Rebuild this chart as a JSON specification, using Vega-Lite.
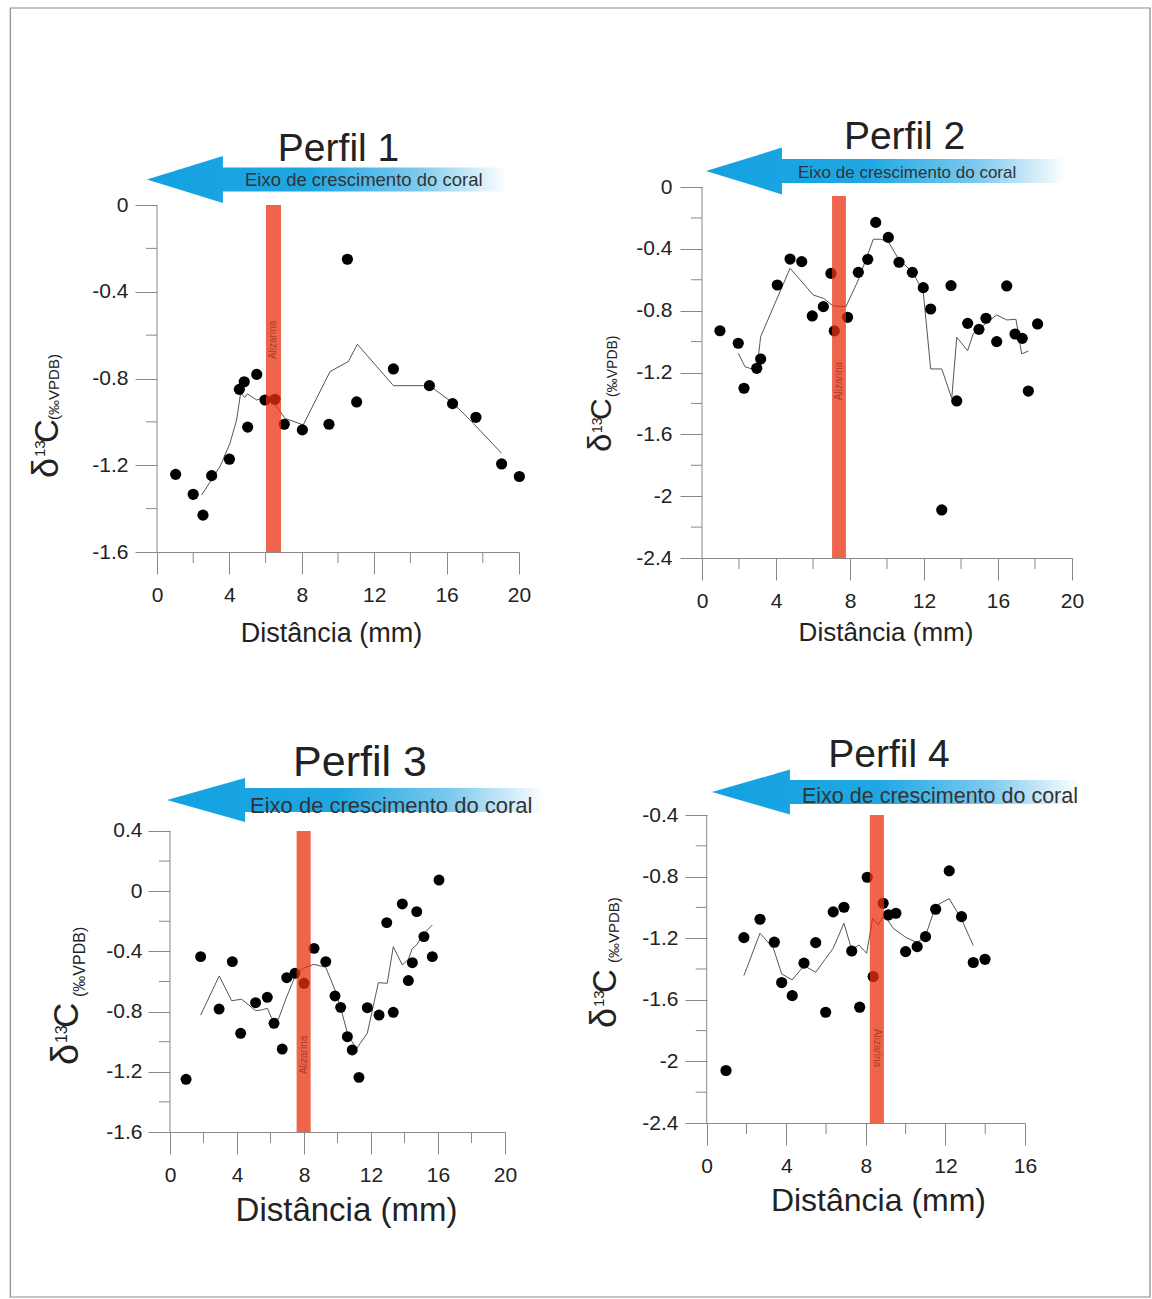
{
  "$schema": "https://vega.github.io/schema/vega-lite/v6.json",
  "background": "white",
  "padding": {"left": 9, "top": 7, "right": 0, "bottom": 0},
  "autosize": {"type": "pad"},
  "bounds": "flush",
  "columns": 2,
  "align": "each",
  "spacing": {"row": 257, "column": 183},
  "config": {
    "font": "Liberation Sans",
    "view": {"stroke": null},
    "axis": {"domainColor": "#888888", "tickColor": "#888888", "labelColor": "#222222", "labelFontSize": 21, "grid": false, "labelFlush": false, "labelOverlap": false, "domainWidth": 1, "tickWidth": 1, "labelFont": "Liberation Sans"}
  },
  "concat": [
    {
      "width": 362, "height": 365,
      "encoding": {
        "x": {"field": "x", "type": "quantitative", "scale": {"domain": [0, 20], "nice": false, "zero": false}, "axis": {"values": [0, 4, 8, 12, 16, 20], "tickSize": 22, "labelPadding": 10, "title": null, "labelExpr": "'' + datum.value"}},
        "y": {"field": "y", "type": "quantitative", "scale": {"domain": [-1.6, 0.083], "nice": false, "zero": false}, "axis": {"values": [0, -0.4, -0.8, -1.2, -1.6], "tickSize": 22, "labelPadding": 7, "domain": false, "title": null, "labelExpr": "'' + datum.value"}}
      },
      "layer": [
        {"data": {"values": [{"x": -8.105, "x2": 54.862, "y": 0.9084, "y2": -5.0351}]}, "mark": {"type": "rect", "fillOpacity": 0, "stroke": "#8a8a8a", "strokeWidth": 1.2}, "encoding": {"x2": {"field": "x2"}, "y2": {"field": "y2"}}},
        {"data": {"values": [{"x": 9.39, "y": 0.1176}]}, "mark": {"type": "point", "shape": "M-1,0L-0.578,-0.13L-0.578,-0.067L1,-0.067L1,0.067L-0.578,0.067L-0.578,0.13Z", "size": 129600, "filled": true, "opacity": 1, "strokeWidth": 0, "fill": {"gradient": "linear", "x1": 0, "y1": 0, "x2": 1, "y2": 0, "stops": [{"offset": 0, "color": "#13A1E1"}, {"offset": 0.45, "color": "#1FA7E3"}, {"offset": 0.75, "color": "#7CC9EE"}, {"offset": 1, "color": "#FFFFFF"}]}}},
        {"data": {"values": [{"x": 4.862, "y": 0.115, "t": "Eixo de crescimento do coral"}]}, "mark": {"type": "text", "align": "left", "baseline": "middle", "fontSize": 18.5, "color": "#333333"}, "encoding": {"text": {"field": "t"}}},
        {"data": {"values": [{"x": 10.03, "y": 0.203, "t": "Perfil 1"}]}, "mark": {"type": "text", "align": "center", "baseline": "alphabetic", "fontSize": 39, "color": "#222222"}, "encoding": {"text": {"field": "t"}}},
        {"data": {"values": [{"x": -5.497, "y": -1.2588, "t": "δ"}]}, "mark": {"type": "text", "align": "left", "baseline": "alphabetic", "angle": 270, "fontSize": 36, "color": "#222222"}, "encoding": {"text": {"field": "t"}}},
        {"data": {"values": [{"x": -5.497, "y": -1.097, "t": "C"}]}, "mark": {"type": "text", "align": "left", "baseline": "alphabetic", "angle": 270, "fontSize": 33, "color": "#222222"}, "encoding": {"text": {"field": "t"}}},
        {"data": {"values": [{"x": -6.188, "y": -1.162, "t": "13"}]}, "mark": {"type": "text", "align": "left", "baseline": "alphabetic", "angle": 270, "fontSize": 15, "color": "#222222"}, "encoding": {"text": {"field": "t"}}},
        {"data": {"values": [{"x": -5.414, "y": -0.991, "t": "(‰VPDB)"}]}, "mark": {"type": "text", "align": "left", "baseline": "alphabetic", "angle": 270, "fontSize": 15, "color": "#222222"}, "encoding": {"text": {"field": "t"}}},
        {"data": {"values": [{"x": 9.64, "y": -2.015, "t": "Distância (mm)"}]}, "mark": {"type": "text", "align": "center", "baseline": "alphabetic", "fontSize": 27, "color": "#222222"}, "encoding": {"text": {"field": "t"}}},
        {"data": {"values": [{"x": 0, "y": -1.6, "y2": 0}]}, "mark": {"type": "rule", "color": "#888888", "strokeWidth": 1}, "encoding": {"y2": {"field": "y2"}}},
        {"data": {"values": [{"x": 0, "y": -0.2}, {"x": 0, "y": -0.6}, {"x": 0, "y": -1.0}, {"x": 0, "y": -1.4}]}, "mark": {"type": "tick", "orient": "horizontal", "size": 11, "thickness": 1, "xOffset": -5.5, "color": "#888888", "opacity": 1}},
        {"data": {"values": [{"x": 2, "y": -1.6}, {"x": 6, "y": -1.6}, {"x": 10, "y": -1.6}, {"x": 14, "y": -1.6}, {"x": 18, "y": -1.6}]}, "mark": {"type": "tick", "orient": "vertical", "size": 11, "thickness": 1, "yOffset": 5.5, "color": "#888888", "opacity": 1}},
        {"data": {"values": [{"x": 2.47, "y": -1.337}, {"x": 3.48, "y": -1.206}, {"x": 4.03, "y": -1.099}, {"x": 4.40, "y": -0.991}, {"x": 4.62, "y": -0.868}, {"x": 4.86, "y": -0.887}, {"x": 4.99, "y": -0.871}, {"x": 5.51, "y": -0.899}, {"x": 6.06, "y": -0.884}, {"x": 6.61, "y": -0.930}, {"x": 7.07, "y": -0.984}, {"x": 8.08, "y": -1.014}, {"x": 9.56, "y": -0.768}, {"x": 10.57, "y": -0.722}, {"x": 11.07, "y": -0.642}, {"x": 13.06, "y": -0.833}, {"x": 15.05, "y": -0.833}, {"x": 16.37, "y": -0.914}, {"x": 17.48, "y": -1.007}, {"x": 19.04, "y": -1.145}]}, "mark": {"type": "line", "color": "#555555", "strokeWidth": 1}},
        {"data": {"values": [{"x": 1.03, "y": -1.242}, {"x": 2.0, "y": -1.334}, {"x": 2.54, "y": -1.43}, {"x": 3.02, "y": -1.248}, {"x": 4.0, "y": -1.172}, {"x": 4.55, "y": -0.850}, {"x": 4.82, "y": -0.815}, {"x": 5.01, "y": -1.024}, {"x": 5.51, "y": -0.781}, {"x": 5.97, "y": -0.899}, {"x": 6.52, "y": -0.896}, {"x": 7.03, "y": -1.011}, {"x": 8.03, "y": -1.037}, {"x": 9.5, "y": -1.011}, {"x": 10.52, "y": -0.250}, {"x": 11.03, "y": -0.908}, {"x": 13.06, "y": -0.756}, {"x": 15.05, "y": -0.833}, {"x": 16.33, "y": -0.916}, {"x": 17.62, "y": -0.979}, {"x": 19.04, "y": -1.194}, {"x": 20.02, "y": -1.252}]}, "mark": {"type": "circle", "size": 125, "color": "#000000", "opacity": 1}},
        {"data": {"values": [{"x": 6.02, "x2": 6.85, "y": 0, "y2": -1.6}]}, "mark": {"type": "rect", "color": "#E8320F", "opacity": 0.75}, "encoding": {"x2": {"field": "x2"}, "y2": {"field": "y2"}}},
        {"data": {"values": [{"x": 6.43, "y": -0.622, "t": "Alizarina"}]}, "mark": {"type": "text", "align": "center", "baseline": "middle", "angle": 270, "fontSize": 10, "color": "#9A3322", "opacity": 0.8}, "encoding": {"text": {"field": "t"}}}
      ]
    },
    {
      "width": 370, "height": 371,
      "encoding": {
        "x": {"field": "x", "type": "quantitative", "scale": {"domain": [0, 20], "nice": false, "zero": false}, "axis": {"values": [0, 4, 8, 12, 16, 20], "tickSize": 22, "labelPadding": 10, "title": null, "labelExpr": "'' + datum.value"}},
        "y": {"field": "y", "type": "quantitative", "scale": {"domain": [-2.4, 0], "nice": false, "zero": false}, "axis": {"values": [0, -0.4, -0.8, -1.2, -1.6, -2, -2.4], "tickSize": 22, "labelPadding": 8, "domain": false, "title": null, "labelExpr": "'' + datum.value"}}
      },
      "layer": [
        {"data": {"values": [{"x": 9.946, "y": 0.1035}]}, "mark": {"type": "point", "shape": "M-1,0L-0.578,-0.13L-0.578,-0.067L1,-0.067L1,0.067L-0.578,0.067L-0.578,0.13Z", "size": 129600, "filled": true, "opacity": 1, "strokeWidth": 0, "fill": {"gradient": "linear", "x1": 0, "y1": 0, "x2": 1, "y2": 0, "stops": [{"offset": 0, "color": "#13A1E1"}, {"offset": 0.45, "color": "#1FA7E3"}, {"offset": 0.75, "color": "#7CC9EE"}, {"offset": 1, "color": "#FFFFFF"}]}}},
        {"data": {"values": [{"x": 5.189, "y": 0.0906, "t": "Eixo de crescimento do coral"}]}, "mark": {"type": "text", "align": "left", "baseline": "middle", "fontSize": 17, "color": "#333333"}, "encoding": {"text": {"field": "t"}}},
        {"data": {"values": [{"x": 10.95, "y": 0.246, "t": "Perfil 2"}]}, "mark": {"type": "text", "align": "center", "baseline": "alphabetic", "fontSize": 39, "color": "#222222"}, "encoding": {"text": {"field": "t"}}},
        {"data": {"values": [{"x": -4.892, "y": -1.714, "t": "δ"}]}, "mark": {"type": "text", "align": "left", "baseline": "alphabetic", "angle": 270, "fontSize": 33, "color": "#222222"}, "encoding": {"text": {"field": "t"}}},
        {"data": {"values": [{"x": -4.892, "y": -1.507, "t": "C"}]}, "mark": {"type": "text", "align": "left", "baseline": "alphabetic", "angle": 270, "fontSize": 30, "color": "#222222"}, "encoding": {"text": {"field": "t"}}},
        {"data": {"values": [{"x": -5.432, "y": -1.591, "t": "13"}]}, "mark": {"type": "text", "align": "left", "baseline": "alphabetic", "angle": 270, "fontSize": 14, "color": "#222222"}, "encoding": {"text": {"field": "t"}}},
        {"data": {"values": [{"x": -4.595, "y": -1.358, "t": "(‰VPDB)"}]}, "mark": {"type": "text", "align": "left", "baseline": "alphabetic", "angle": 270, "fontSize": 14, "color": "#222222"}, "encoding": {"text": {"field": "t"}}},
        {"data": {"values": [{"x": 9.946, "y": -2.937, "t": "Distância (mm)"}]}, "mark": {"type": "text", "align": "center", "baseline": "alphabetic", "fontSize": 26, "color": "#222222"}, "encoding": {"text": {"field": "t"}}},
        {"data": {"values": [{"x": 0, "y": -2.4, "y2": 0}]}, "mark": {"type": "rule", "color": "#888888", "strokeWidth": 1}, "encoding": {"y2": {"field": "y2"}}},
        {"data": {"values": [{"x": 0, "y": -0.2}, {"x": 0, "y": -0.6}, {"x": 0, "y": -1.0}, {"x": 0, "y": -1.4}, {"x": 0, "y": -1.8}, {"x": 0, "y": -2.2}]}, "mark": {"type": "tick", "orient": "horizontal", "size": 11, "thickness": 1, "xOffset": -5.5, "color": "#888888", "opacity": 1}},
        {"data": {"values": [{"x": 2, "y": -2.4}, {"x": 6, "y": -2.4}, {"x": 10, "y": -2.4}, {"x": 14, "y": -2.4}, {"x": 18, "y": -2.4}]}, "mark": {"type": "tick", "orient": "vertical", "size": 11, "thickness": 1, "yOffset": 5.5, "color": "#888888", "opacity": 1}},
        {"data": {"values": [{"x": 1.96, "y": -1.076}, {"x": 2.32, "y": -1.162}, {"x": 2.96, "y": -1.188}, {"x": 3.17, "y": -0.968}, {"x": 4.76, "y": -0.526}, {"x": 6.02, "y": -0.699}, {"x": 6.56, "y": -0.720}, {"x": 7.1, "y": -0.770}, {"x": 7.78, "y": -0.774}, {"x": 8.45, "y": -0.602}, {"x": 9.26, "y": -0.338}, {"x": 9.66, "y": -0.338}, {"x": 10.07, "y": -0.354}, {"x": 10.65, "y": -0.472}, {"x": 11.37, "y": -0.548}, {"x": 11.96, "y": -0.677}, {"x": 12.36, "y": -1.177}, {"x": 12.96, "y": -1.177}, {"x": 13.50, "y": -1.367}, {"x": 13.77, "y": -0.972}, {"x": 14.36, "y": -1.059}, {"x": 14.67, "y": -0.946}, {"x": 15.35, "y": -0.882}, {"x": 15.93, "y": -0.828}, {"x": 16.47, "y": -0.860}, {"x": 16.97, "y": -0.856}, {"x": 17.28, "y": -1.080}, {"x": 17.64, "y": -1.061}]}, "mark": {"type": "line", "color": "#555555", "strokeWidth": 1}},
        {"data": {"values": [{"x": 0.97, "y": -0.930}, {"x": 1.96, "y": -1.011}, {"x": 2.27, "y": -1.302}, {"x": 2.96, "y": -1.173}, {"x": 3.17, "y": -1.113}, {"x": 4.07, "y": -0.634}, {"x": 4.76, "y": -0.466}, {"x": 5.39, "y": -0.483}, {"x": 5.96, "y": -0.834}, {"x": 6.56, "y": -0.774}, {"x": 6.97, "y": -0.559}, {"x": 7.15, "y": -0.931}, {"x": 7.87, "y": -0.843}, {"x": 8.45, "y": -0.552}, {"x": 8.96, "y": -0.468}, {"x": 9.39, "y": -0.229}, {"x": 10.07, "y": -0.326}, {"x": 10.65, "y": -0.487}, {"x": 11.37, "y": -0.552}, {"x": 11.96, "y": -0.651}, {"x": 12.36, "y": -0.789}, {"x": 12.96, "y": -2.089}, {"x": 13.46, "y": -0.638}, {"x": 13.77, "y": -1.384}, {"x": 14.36, "y": -0.882}, {"x": 14.97, "y": -0.921}, {"x": 15.35, "y": -0.849}, {"x": 15.93, "y": -1.000}, {"x": 16.47, "y": -0.640}, {"x": 16.92, "y": -0.951}, {"x": 17.31, "y": -0.979}, {"x": 17.64, "y": -1.320}, {"x": 18.14, "y": -0.886}]}, "mark": {"type": "circle", "size": 125, "color": "#000000", "opacity": 1}},
        {"data": {"values": [{"x": 7.03, "x2": 7.78, "y": -0.058, "y2": -2.4}]}, "mark": {"type": "rect", "color": "#E8320F", "opacity": 0.75}, "encoding": {"x2": {"field": "x2"}, "y2": {"field": "y2"}}},
        {"data": {"values": [{"x": 7.4, "y": -1.255, "t": "Alizarina"}]}, "mark": {"type": "text", "align": "center", "baseline": "middle", "angle": 270, "fontSize": 10, "color": "#9A3322", "opacity": 0.8}, "encoding": {"text": {"field": "t"}}}
      ]
    },
    {
      "width": 348, "height": 317,
      "encoding": {
        "x": {"field": "x", "type": "quantitative", "scale": {"domain": [-0.776, 20], "nice": false, "zero": false}, "axis": {"values": [0, 4, 8, 12, 16, 20], "tickSize": 22, "labelPadding": 10, "title": null, "labelExpr": "'' + datum.value"}},
        "y": {"field": "y", "type": "quantitative", "scale": {"domain": [-1.6, 0.506], "nice": false, "zero": false}, "axis": {"values": [0.4, 0, -0.4, -0.8, -1.2, -1.6], "tickSize": 22, "labelPadding": 6, "domain": false, "offset": -13, "title": null, "labelExpr": "'' + datum.value"}}
      },
      "layer": [
        {"data": {"values": [{"x": 11.105, "y": 0.6057}]}, "mark": {"type": "point", "shape": "M-1,0L-0.587,-0.116L-0.587,-0.063L1,-0.063L1,0.063L-0.587,0.063L-0.587,0.116Z", "size": 142884, "filled": true, "opacity": 1, "strokeWidth": 0, "fill": {"gradient": "linear", "x1": 0, "y1": 0, "x2": 1, "y2": 0, "stops": [{"offset": 0, "color": "#13A1E1"}, {"offset": 0.45, "color": "#1FA7E3"}, {"offset": 0.75, "color": "#7CC9EE"}, {"offset": 1, "color": "#FFFFFF"}]}}},
        {"data": {"values": [{"x": 4.776, "y": 0.566, "t": "Eixo de crescimento do coral"}]}, "mark": {"type": "text", "align": "left", "baseline": "middle", "fontSize": 22, "color": "#333333"}, "encoding": {"text": {"field": "t"}}},
        {"data": {"values": [{"x": 11.343, "y": 0.765, "t": "Perfil 3"}]}, "mark": {"type": "text", "align": "center", "baseline": "alphabetic", "fontSize": 43, "color": "#222222"}, "encoding": {"text": {"field": "t"}}},
        {"data": {"values": [{"x": -5.474, "y": -1.155, "t": "δ"}]}, "mark": {"type": "text", "align": "left", "baseline": "alphabetic", "angle": 270, "fontSize": 38, "color": "#222222"}, "encoding": {"text": {"field": "t"}}},
        {"data": {"values": [{"x": -5.474, "y": -0.909, "t": "C"}]}, "mark": {"type": "text", "align": "left", "baseline": "alphabetic", "angle": 270, "fontSize": 35, "color": "#222222"}, "encoding": {"text": {"field": "t"}}},
        {"data": {"values": [{"x": -6.167, "y": -1.009, "t": "13"}]}, "mark": {"type": "text", "align": "left", "baseline": "alphabetic", "angle": 270, "fontSize": 16, "color": "#222222"}, "encoding": {"text": {"field": "t"}}},
        {"data": {"values": [{"x": -5.104, "y": -0.703, "t": "(‰VPDB)"}]}, "mark": {"type": "text", "align": "left", "baseline": "alphabetic", "angle": 270, "fontSize": 16, "color": "#222222"}, "encoding": {"text": {"field": "t"}}},
        {"data": {"values": [{"x": 10.537, "y": -2.192, "t": "Distância (mm)"}]}, "mark": {"type": "text", "align": "center", "baseline": "alphabetic", "fontSize": 33, "color": "#222222"}, "encoding": {"text": {"field": "t"}}},
        {"data": {"values": [{"x": 0, "y": -1.6, "y2": 0.4}]}, "mark": {"type": "rule", "color": "#888888", "strokeWidth": 1}, "encoding": {"y2": {"field": "y2"}}},
        {"data": {"values": [{"x": 0, "y": 0.2}, {"x": 0, "y": -0.2}, {"x": 0, "y": -0.6}, {"x": 0, "y": -1.0}, {"x": 0, "y": -1.4}]}, "mark": {"type": "tick", "orient": "horizontal", "size": 11, "thickness": 1, "xOffset": -5.5, "color": "#888888", "opacity": 1}},
        {"data": {"values": [{"x": 2, "y": -1.6}, {"x": 6, "y": -1.6}, {"x": 10, "y": -1.6}, {"x": 14, "y": -1.6}, {"x": 18, "y": -1.6}]}, "mark": {"type": "tick", "orient": "vertical", "size": 11, "thickness": 1, "yOffset": 5.5, "color": "#888888", "opacity": 1}},
        {"data": {"values": [{"x": 1.83, "y": -0.823}, {"x": 2.94, "y": -0.563}, {"x": 3.68, "y": -0.728}, {"x": 4.28, "y": -0.718}, {"x": 5.11, "y": -0.794}, {"x": 5.47, "y": -0.789}, {"x": 5.81, "y": -0.778}, {"x": 6.07, "y": -0.845}, {"x": 6.47, "y": -0.851}, {"x": 6.97, "y": -0.701}, {"x": 7.46, "y": -0.568}, {"x": 7.96, "y": -0.512}, {"x": 8.60, "y": -0.486}, {"x": 9.30, "y": -0.506}, {"x": 9.85, "y": -0.656}, {"x": 10.25, "y": -0.801}, {"x": 10.65, "y": -0.967}, {"x": 11.15, "y": -1.044}, {"x": 11.78, "y": -0.944}, {"x": 12.44, "y": -0.608}, {"x": 12.97, "y": -0.612}, {"x": 13.33, "y": -0.369}, {"x": 13.87, "y": -0.490}, {"x": 14.23, "y": -0.453}, {"x": 14.47, "y": -0.380}, {"x": 14.73, "y": -0.357}, {"x": 15.12, "y": -0.286}, {"x": 15.66, "y": -0.225}]}, "mark": {"type": "line", "color": "#555555", "strokeWidth": 1}},
        {"data": {"values": [{"x": 0.96, "y": -1.25}, {"x": 1.83, "y": -0.435}, {"x": 2.93, "y": -0.783}, {"x": 3.72, "y": -0.468}, {"x": 4.22, "y": -0.944}, {"x": 5.11, "y": -0.741}, {"x": 5.81, "y": -0.705}, {"x": 6.21, "y": -0.878}, {"x": 6.70, "y": -1.049}, {"x": 6.97, "y": -0.575}, {"x": 7.46, "y": -0.546}, {"x": 8.00, "y": -0.612}, {"x": 8.60, "y": -0.380}, {"x": 9.30, "y": -0.468}, {"x": 9.85, "y": -0.696}, {"x": 10.19, "y": -0.772}, {"x": 10.59, "y": -0.967}, {"x": 10.88, "y": -1.055}, {"x": 11.28, "y": -1.237}, {"x": 11.78, "y": -0.774}, {"x": 12.48, "y": -0.823}, {"x": 12.94, "y": -0.209}, {"x": 13.33, "y": -0.805}, {"x": 13.87, "y": -0.085}, {"x": 14.23, "y": -0.594}, {"x": 14.47, "y": -0.475}, {"x": 14.73, "y": -0.136}, {"x": 15.16, "y": -0.302}, {"x": 15.66, "y": -0.435}, {"x": 16.06, "y": 0.074}]}, "mark": {"type": "circle", "size": 120, "color": "#000000", "opacity": 1}},
        {"data": {"values": [{"x": 7.56, "x2": 8.40, "y": 0.4, "y2": -1.6}]}, "mark": {"type": "rect", "color": "#E8320F", "opacity": 0.75}, "encoding": {"x2": {"field": "x2"}, "y2": {"field": "y2"}}},
        {"data": {"values": [{"x": 7.98, "y": -1.088, "t": "Alizarina"}]}, "mark": {"type": "text", "align": "center", "baseline": "middle", "angle": 270, "fontSize": 10, "color": "#9A3322", "opacity": 0.8}, "encoding": {"text": {"field": "t"}}}
      ]
    },
    {
      "width": 323, "height": 308,
      "encoding": {
        "x": {"field": "x", "type": "quantitative", "scale": {"domain": [-0.236, 16], "nice": false, "zero": false}, "axis": {"values": [0, 4, 8, 12, 16], "tickSize": 22, "labelPadding": 10, "title": null, "labelExpr": "'' + datum.value"}},
        "y": {"field": "y", "type": "quantitative", "scale": {"domain": [-2.4, -0.4], "nice": false, "zero": false}, "axis": {"values": [-0.4, -0.8, -1.2, -1.6, -2, -2.4], "tickSize": 22, "labelPadding": 7, "domain": false, "offset": -5, "title": null, "labelExpr": "'' + datum.value"}}
      },
      "layer": [
        {"data": {"values": [{"x": 9.513, "y": -0.251}]}, "mark": {"type": "point", "shape": "M-1,0L-0.576,-0.122L-0.576,-0.065L1,-0.065L1,0.065L-0.576,0.065L-0.576,0.122Z", "size": 135424, "filled": true, "opacity": 1, "strokeWidth": 0, "fill": {"gradient": "linear", "x1": 0, "y1": 0, "x2": 1, "y2": 0, "stops": [{"offset": 0, "color": "#13A1E1"}, {"offset": 0.45, "color": "#1FA7E3"}, {"offset": 0.75, "color": "#7CC9EE"}, {"offset": 1, "color": "#FFFFFF"}]}}},
        {"data": {"values": [{"x": 4.789, "y": -0.283, "t": "Eixo de crescimento do coral"}]}, "mark": {"type": "text", "align": "left", "baseline": "middle", "fontSize": 21.5, "color": "#333333"}, "encoding": {"text": {"field": "t"}}},
        {"data": {"values": [{"x": 9.161, "y": -0.088, "t": "Perfil 4"}]}, "mark": {"type": "text", "align": "center", "baseline": "alphabetic", "fontSize": 39, "color": "#222222"}, "encoding": {"text": {"field": "t"}}},
        {"data": {"values": [{"x": -4.557, "y": -1.783, "t": "δ"}]}, "mark": {"type": "text", "align": "left", "baseline": "alphabetic", "angle": 270, "fontSize": 36, "color": "#222222"}, "encoding": {"text": {"field": "t"}}},
        {"data": {"values": [{"x": -4.557, "y": -1.556, "t": "C"}]}, "mark": {"type": "text", "align": "left", "baseline": "alphabetic", "angle": 270, "fontSize": 33, "color": "#222222"}, "encoding": {"text": {"field": "t"}}},
        {"data": {"values": [{"x": -5.186, "y": -1.647, "t": "13"}]}, "mark": {"type": "text", "align": "left", "baseline": "alphabetic", "angle": 270, "fontSize": 15, "color": "#222222"}, "encoding": {"text": {"field": "t"}}},
        {"data": {"values": [{"x": -4.432, "y": -1.361, "t": "(‰VPDB)"}]}, "mark": {"type": "text", "align": "left", "baseline": "alphabetic", "angle": 270, "fontSize": 15, "color": "#222222"}, "encoding": {"text": {"field": "t"}}},
        {"data": {"values": [{"x": 8.634, "y": -2.971, "t": "Distância (mm)"}]}, "mark": {"type": "text", "align": "center", "baseline": "alphabetic", "fontSize": 32, "color": "#222222"}, "encoding": {"text": {"field": "t"}}},
        {"data": {"values": [{"x": 0, "y": -2.4, "y2": -0.4}]}, "mark": {"type": "rule", "color": "#888888", "strokeWidth": 1}, "encoding": {"y2": {"field": "y2"}}},
        {"data": {"values": [{"x": 0, "y": -0.6}, {"x": 0, "y": -1.0}, {"x": 0, "y": -1.4}, {"x": 0, "y": -1.8}, {"x": 0, "y": -2.2}]}, "mark": {"type": "tick", "orient": "horizontal", "size": 11, "thickness": 1, "xOffset": -5.5, "color": "#888888", "opacity": 1}},
        {"data": {"values": [{"x": 2, "y": -2.4}, {"x": 6, "y": -2.4}, {"x": 10, "y": -2.4}, {"x": 14, "y": -2.4}]}, "mark": {"type": "tick", "orient": "vertical", "size": 11, "thickness": 1, "yOffset": 5.5, "color": "#888888", "opacity": 1}},
        {"data": {"values": [{"x": 1.87, "y": -1.443}, {"x": 2.68, "y": -1.168}, {"x": 3.35, "y": -1.265}, {"x": 3.77, "y": -1.432}, {"x": 4.30, "y": -1.471}, {"x": 4.89, "y": -1.378}, {"x": 5.48, "y": -1.421}, {"x": 6.36, "y": -1.265}, {"x": 6.90, "y": -1.103}, {"x": 7.29, "y": -1.276}, {"x": 7.65, "y": -1.244}, {"x": 8.04, "y": -1.298}, {"x": 8.34, "y": -1.071}, {"x": 8.62, "y": -1.114}, {"x": 8.92, "y": -1.049}, {"x": 9.38, "y": -1.136}, {"x": 10.0, "y": -1.194}, {"x": 10.58, "y": -1.229}, {"x": 11.0, "y": -1.185}, {"x": 11.51, "y": -0.990}, {"x": 12.19, "y": -0.943}, {"x": 12.81, "y": -1.077}, {"x": 13.40, "y": -1.248}]}, "mark": {"type": "line", "color": "#555555", "strokeWidth": 1}},
        {"data": {"values": [{"x": 0.97, "y": -2.059}, {"x": 1.87, "y": -1.196}, {"x": 2.68, "y": -1.077}, {"x": 3.40, "y": -1.226}, {"x": 3.77, "y": -1.488}, {"x": 4.30, "y": -1.573}, {"x": 4.89, "y": -1.362}, {"x": 5.48, "y": -1.229}, {"x": 5.98, "y": -1.681}, {"x": 6.36, "y": -1.029}, {"x": 6.90, "y": -0.999}, {"x": 7.29, "y": -1.283}, {"x": 7.69, "y": -1.648}, {"x": 8.07, "y": -0.804}, {"x": 8.37, "y": -1.449}, {"x": 8.87, "y": -0.973}, {"x": 9.13, "y": -1.049}, {"x": 9.51, "y": -1.038}, {"x": 10.0, "y": -1.287}, {"x": 10.58, "y": -1.255}, {"x": 11.0, "y": -1.190}, {"x": 11.51, "y": -1.012}, {"x": 12.19, "y": -0.763}, {"x": 12.81, "y": -1.060}, {"x": 13.40, "y": -1.358}, {"x": 13.99, "y": -1.337}]}, "mark": {"type": "circle", "size": 125, "color": "#000000", "opacity": 1}},
        {"data": {"values": [{"x": 8.2, "x2": 8.91, "y": -0.4, "y2": -2.4}]}, "mark": {"type": "rect", "color": "#E8320F", "opacity": 0.75}, "encoding": {"x2": {"field": "x2"}, "y2": {"field": "y2"}}},
        {"data": {"values": [{"x": 8.56, "y": -1.913, "t": "Alizarina"}]}, "mark": {"type": "text", "align": "center", "baseline": "middle", "angle": 90, "fontSize": 10, "color": "#9A3322", "opacity": 0.8}, "encoding": {"text": {"field": "t"}}}
      ]
    }
  ]
}
